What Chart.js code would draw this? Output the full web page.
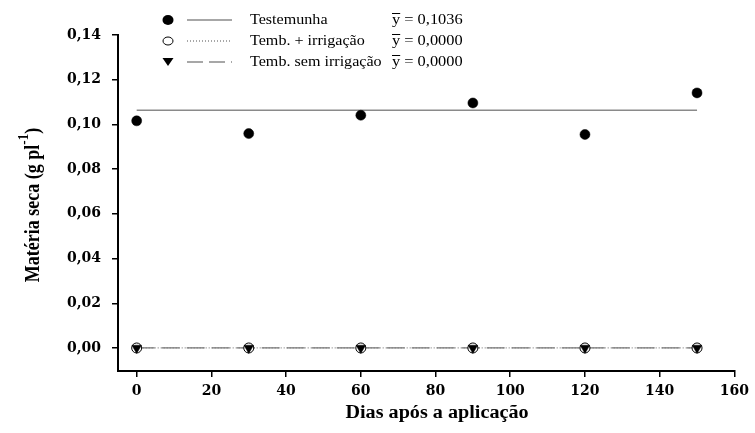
<!DOCTYPE html>
<html>
<head>
<meta charset="utf-8">
<script src="https://cdn.jsdelivr.net/npm/chart.js@4.4.0/dist/chart.umd.min.js"></script>
<style>
  html, body { margin: 0; padding: 0; background: #fff; }
  #wrap { width: 755px; height: 433px; }
</style>
</head>
<body>
<div id="wrap"><canvas id="mycanvas" width="755" height="433"></canvas></div>
<script>
// data
var dias = [0, 30, 60, 90, 120, 150];
var testemunha = [0.1016, 0.0959, 0.1041, 0.1096, 0.0955, 0.1141];
var tembIrrigacao = [0, 0, 0, 0, 0, 0];
var tembSemIrrigacao = [0, 0, 0, 0, 0, 0];
var linhaDias = [0, 150];
var linhaTestemunha = [0.1063, 0.1063];
var linhaZero = [0, 0];
var legendas = ['Testemunha', 'Temb. + irrigação', 'Temb. sem irrigação'];
var medias = ['0,1036', '0,0000', '0,0000'];
var yTicks = [0, 0.02, 0.04, 0.06, 0.08, 0.10, 0.12, 0.14];

function pts(xs, ys) {
    var out = [];
    for (var i in xs) {
        out.push({ x: xs[i], y: ys[i] });
    }
    return out;
}

var serif = '"Liberation Serif", "Times New Roman", serif';
var wide = '"DejaVu Serif", serif';
var gray = '#8a8a8a';

// text stretched sideways like the picture
function wideText(c, txt, x, y, align, sx) {
    sx = sx || 1.17;
    var w = c.measureText(txt).width * sx;
    var x0 = x;
    if (align === 'center') x0 = x - w / 2;
    c.save();
    c.translate(x0, y);
    c.scale(sx, 1);
    c.textAlign = 'left';
    c.fillText(txt, 0, 0);
    c.restore();
    return w;
}

var extras = {
    id: 'extras',
    afterDraw: function (chart) {
        var c = chart.ctx;
        c.save();
        c.fillStyle = '#000';
        c.textBaseline = 'middle';

        // x title
        c.font = 'bold 18px ' + serif;
        wideText(c, 'Dias após a aplicação', 437, 413, 'center', 1.12);

        // y title with superscript
        c.translate(34, 205);
        c.rotate(-Math.PI / 2);
        c.scale(1, 1.15);
        var a = 'Matéria seca (g pl';
        c.font = 'bold 18px ' + serif;
        var wa = c.measureText(a).width;
        c.font = 'bold 13px ' + serif;
        var ws = c.measureText('-1').width;
        c.font = 'bold 18px ' + serif;
        var wb = c.measureText(')').width;
        var x0 = -(wa + ws + wb) / 2;
        c.textAlign = 'left';
        c.fillText(a, x0, 0);
        c.font = 'bold 13px ' + serif;
        c.fillText('-1', x0 + wa, -9);
        c.font = 'bold 18px ' + serif;
        c.fillText(')', x0 + wa + ws, 0);
        c.setTransform(1, 0, 0, 1, 0, 0);

        // legend
        var rows = [20, 41, 62];
        c.font = '14px ' + serif;
        c.textBaseline = 'middle';
        for (var i = 0; i < 3; i++) {
            var y = rows[i];
            c.fillStyle = '#000';
            c.strokeStyle = '#000';
            c.lineWidth = 1;
            c.setLineDash([]);
            if (i === 0) {
                c.beginPath(); c.ellipse(168, y, 5.5, 5, 0, 0, Math.PI * 2); c.fill();
            } else if (i === 1) {
                c.beginPath(); c.ellipse(168, y, 5, 4, 0, 0, Math.PI * 2);
                c.fillStyle = '#fff'; c.fill(); c.stroke();
            } else {
                c.beginPath(); c.moveTo(162.5, y - 4); c.lineTo(173.5, y - 4); c.lineTo(168, y + 4);
                c.closePath(); c.fill();
            }
            c.strokeStyle = gray;
            c.lineWidth = 1.3;
            if (i === 1) c.setLineDash([1, 2]);
            if (i === 2) c.setLineDash([16, 6]);
            c.beginPath(); c.moveTo(187, y); c.lineTo(232, y); c.stroke();
            c.setLineDash([]);
            c.fillStyle = '#000';
            wideText(c, legendas[i], 250, y, 'left', 1.15);
            var wy = wideText(c, 'y', 392, y);
            c.strokeStyle = '#000';
            c.lineWidth = 1;
            c.beginPath(); c.moveTo(392, y - 6.5); c.lineTo(392 + wy, y - 6.5); c.stroke();
            wideText(c, ' = ' + medias[i], 392 + wy, y);
        }
        c.restore();
    }
};

var ctx = document.getElementById('mycanvas');

var chart = new Chart(ctx, {
    type: 'scatter',
    data: {
        datasets: [{
            label: 'linha testemunha',
            data: pts(linhaDias, linhaTestemunha),
            showLine: true,
            borderColor: gray,
            borderWidth: 1.5,
            pointRadius: 0,
            order: 5
        }, {
            label: 'linha irrigacao',
            data: pts(linhaDias, linhaZero),
            showLine: true,
            borderColor: gray,
            borderWidth: 1.2,
            borderDash: [1, 2],
            pointRadius: 0,
            order: 4
        }, {
            label: 'linha sem irrigacao',
            data: pts(linhaDias, linhaZero),
            showLine: true,
            borderColor: '#777',
            borderWidth: 1.3,
            borderDash: [18, 7],
            pointRadius: 0,
            order: 3
        }, {
            label: legendas[0],
            data: pts(dias, testemunha),
            backgroundColor: '#000',
            borderColor: '#000',
            pointRadius: 5,
            borderWidth: 0.5,
            order: 0
        }, {
            label: legendas[1],
            data: pts(dias, tembIrrigacao),
            backgroundColor: '#fff',
            borderColor: '#000',
            pointRadius: 5,
            borderWidth: 1,
            order: 2
        }, {
            label: legendas[2],
            data: pts(dias, tembSemIrrigacao),
            pointStyle: 'triangle',
            rotation: 180,
            backgroundColor: '#000',
            borderColor: '#000',
            pointRadius: 5.5,
            borderWidth: 0.5,
            order: 1
        }]
    },
    options: {
        responsive: false,
        animation: false,
        layout: { padding: { left: 0, right: 14, top: 35, bottom: 0 } },
        plugins: {
            legend: { display: false },
            tooltip: { enabled: false }
        },
        scales: {
            x: {
                type: 'linear',
                min: -5,
                max: 160,
                afterBuildTicks: function (s) {
                    s.ticks = [];
                    for (var v = 0; v <= 160; v += 20) s.ticks.push({ value: v });
                },
                afterFit: function (s) { s.height = 62; },
                grid: { drawOnChartArea: false, drawTicks: true, tickLength: 6, color: '#000', lineWidth: 1.5 },
                border: { display: true, color: '#000', width: 2 },
                ticks: {
                    color: '#000',
                    padding: 6,
                    maxRotation: 0,
                    font: { family: wide, size: 14, weight: 'bold' }
                }
            },
            y: {
                min: -0.0103,
                max: 0.14,
                afterBuildTicks: function (s) {
                    s.ticks = yTicks.map(function (v) { return { value: v }; });
                },
                afterFit: function (s) { s.width = 118; },
                grid: { drawOnChartArea: false, drawTicks: true, tickLength: 6, color: '#000', lineWidth: 1.5 },
                border: { display: true, color: '#000', width: 2 },
                ticks: {
                    color: '#000',
                    padding: 11,
                    font: { family: wide, size: 14, weight: 'bold' },
                    callback: function (v) { return v.toFixed(2).replace('.', ','); }
                }
            }
        }
    },
    plugins: [extras]
});
</script>
</body>
</html>
